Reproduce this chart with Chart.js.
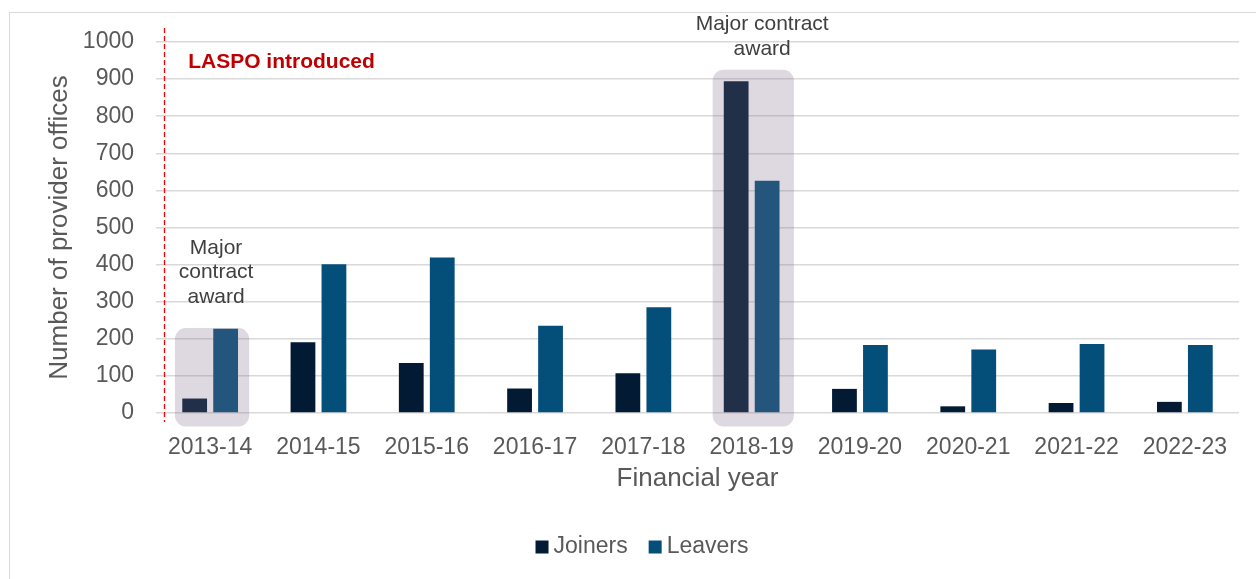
<!DOCTYPE html>
<html>
<head>
<meta charset="utf-8">
<title>Provider office joiners and leavers</title>
<script src="https://cdn.jsdelivr.net/npm/chart.js@4.4.1/dist/chart.umd.min.js"></script>
<style>
    html, body { margin: 0; padding: 0; background: #fff; overflow: hidden; }
    #frame {
        position: absolute; left: 9px; top: 12px;
        width: 1300px; height: 620px;
        border: 1.5px solid #d9d9d9;
    }
    #wrap { position: absolute; left: 0; top: 0; width: 1256px; height: 579px; }
</style>
</head>
<body>
<div id="frame"></div>
<div id="wrap"><canvas id="offices"></canvas></div>
<script>
// Provider offices joining and leaving, by financial year
const years = ['2013-14', '2014-15', '2015-16', '2016-17', '2017-18',
               '2018-19', '2019-20', '2020-21', '2021-22', '2022-23'];
const joiners = [39, 191, 135, 66, 107, 894, 65, 18, 27, 30];
const leavers = [227, 401, 419, 235, 285, 626, 183, 171, 186, 183];
const yTicks = [0, 100, 200, 300, 400, 500, 600, 700, 800, 900, 1000];

const FONT = "'Liberation Sans', Arial, sans-serif";
const GREY_TEXT = '#595959';

// Shaded contract-award boxes, dashed LASPO marker and the notes on them
const markers = {
    id: 'markers',
    afterDatasetsDraw(chart, args, opts) {
        const { ctx } = chart;
        const x = chart.scales.x;
        const y = chart.scales.y;
        ctx.save();

        // translucent boxes over the bars of the award years
        ctx.fillStyle = opts.boxColor;
        opts.boxes.forEach(b => {
            const left = x.getPixelForValue(b.index + b.from);
            const right = x.getPixelForValue(b.index + b.to);
            const top = y.getPixelForValue(b.top);
            const bottom = y.getPixelForValue(0) + 13.5;
            ctx.beginPath();
            ctx.roundRect(left, top, right - left, bottom - top, 11);
            ctx.fill();
        });

        // LASPO line
        const lx = Math.round(x.getPixelForValue(opts.laspo.at)) + 0.5;
        ctx.strokeStyle = '#ff0000';
        ctx.lineWidth = 1.3;
        ctx.setLineDash([5, 3]);
        ctx.beginPath();
        ctx.moveTo(lx, y.getPixelForValue(opts.laspo.from));
        ctx.lineTo(lx, y.getPixelForValue(0) + 9);
        ctx.stroke();
        ctx.setLineDash([]);

        ctx.fillStyle = '#c00000';
        ctx.font = 'bold 21px ' + FONT;
        ctx.textAlign = 'left';
        ctx.textBaseline = 'middle';
        ctx.fillText(opts.laspo.text,
            x.getPixelForValue(opts.laspo.textAt), y.getPixelForValue(opts.laspo.textY));

        // notes above the boxes
        ctx.fillStyle = '#404040';
        ctx.font = '21px ' + FONT;
        ctx.textAlign = 'center';
        opts.notes.forEach(n => {
            const cx = x.getPixelForValue(n.index + n.dx);
            const last = y.getPixelForValue(n.y);
            n.lines.forEach((line, i) => {
                ctx.fillText(line, cx, last - (n.lines.length - 1 - i) * 24.5);
            });
        });
        ctx.restore();
    }
};

// Legend drawn as one centred row below the axis title
const bottomLegend = {
    id: 'bottomLegend',
    afterDraw(chart, args, opts) {
        const { ctx } = chart;
        ctx.save();
        ctx.font = '23px ' + FONT;
        ctx.textBaseline = 'middle';
        ctx.textAlign = 'left';
        const items = chart.data.datasets.map(ds => ({
            text: ds.label, color: ds.backgroundColor,
            w: opts.box + opts.gap + ctx.measureText(ds.label).width
        }));
        const total = items.reduce((s, it) => s + it.w, 0) + opts.spacing * (items.length - 1);
        let cx = opts.centerX - total / 2;
        items.forEach(it => {
            ctx.fillStyle = it.color;
            ctx.fillRect(cx, opts.centerY - opts.box / 2, opts.box, opts.box);
            ctx.fillStyle = GREY_TEXT;
            ctx.fillText(it.text, cx + opts.box + opts.gap, opts.centerY);
            cx += it.w + opts.spacing;
        });
        ctx.restore();
    }
};

new Chart(document.getElementById('offices'), {
    type: 'bar',
    data: {
        labels: years,
        datasets: [
            { label: 'Joiners', data: joiners, backgroundColor: '#021a33' },
            { label: 'Leavers', data: leavers, backgroundColor: '#044e7a' }
        ]
    },
    options: {
        responsive: true,
        maintainAspectRatio: false,
        animation: false,
        categoryPercentage: 0.572,
        barPercentage: 0.8,
        layout: { padding: { top: 42, right: 17, left: 0, bottom: 0 } },
        plugins: {
            legend: { display: false },
            tooltip: { enabled: false },
            markers: {
                boxColor: 'rgba(128, 110, 136, 0.26)',
                boxes: [
                    { index: 0, from: -0.325, to: 0.36, top: 229 },
                    { index: 5, from: -0.36, to: 0.39, top: 925 }
                ],
                laspo: { at: -0.425, from: 1038, text: 'LASPO introduced', textAt: -0.203, textY: 946 },
                notes: [
                    { index: 0, dx: 0.055, y: 313, lines: ['Major', 'contract', 'award'] },
                    { index: 5, dx: 0.097, y: 981, lines: ['Major contract', 'award'] }
                ]
            },
            bottomLegend: { centerX: 642, centerY: 547, box: 13, gap: 5, spacing: 21 }
        },
        scales: {
            x: {
                grid: { display: false },
                border: { display: false },
                ticks: {
                    color: GREY_TEXT,
                    font: { family: FONT, size: 23 },
                    padding: 13,
                    maxRotation: 0,
                    autoSkip: false
                },
                title: {
                    display: true,
                    text: 'Financial year',
                    color: GREY_TEXT,
                    font: { family: FONT, size: 26 },
                    padding: { top: 0, bottom: 85 }
                },
                afterFit(scale) { scale.height = 166; }
            },
            y: {
                min: 0,
                max: 1000,
                afterBuildTicks(scale) { scale.ticks = yTicks.map(v => ({ value: v })); },
                grid: { color: '#d9d9d9', lineWidth: 1.5, drawTicks: false },
                border: { display: false },
                ticks: {
                    color: GREY_TEXT,
                    font: { family: FONT, size: 23 },
                    padding: 22,
                    callback: v => String(v)
                },
                title: {
                    display: true,
                    text: 'Number of provider offices',
                    color: GREY_TEXT,
                    font: { family: FONT, size: 26 },
                    padding: { top: 44, bottom: 0 }
                },
                afterFit(scale) { scale.width = 156; }
            }
        }
    },
    plugins: [markers, bottomLegend]
});
</script>
</body>
</html>
